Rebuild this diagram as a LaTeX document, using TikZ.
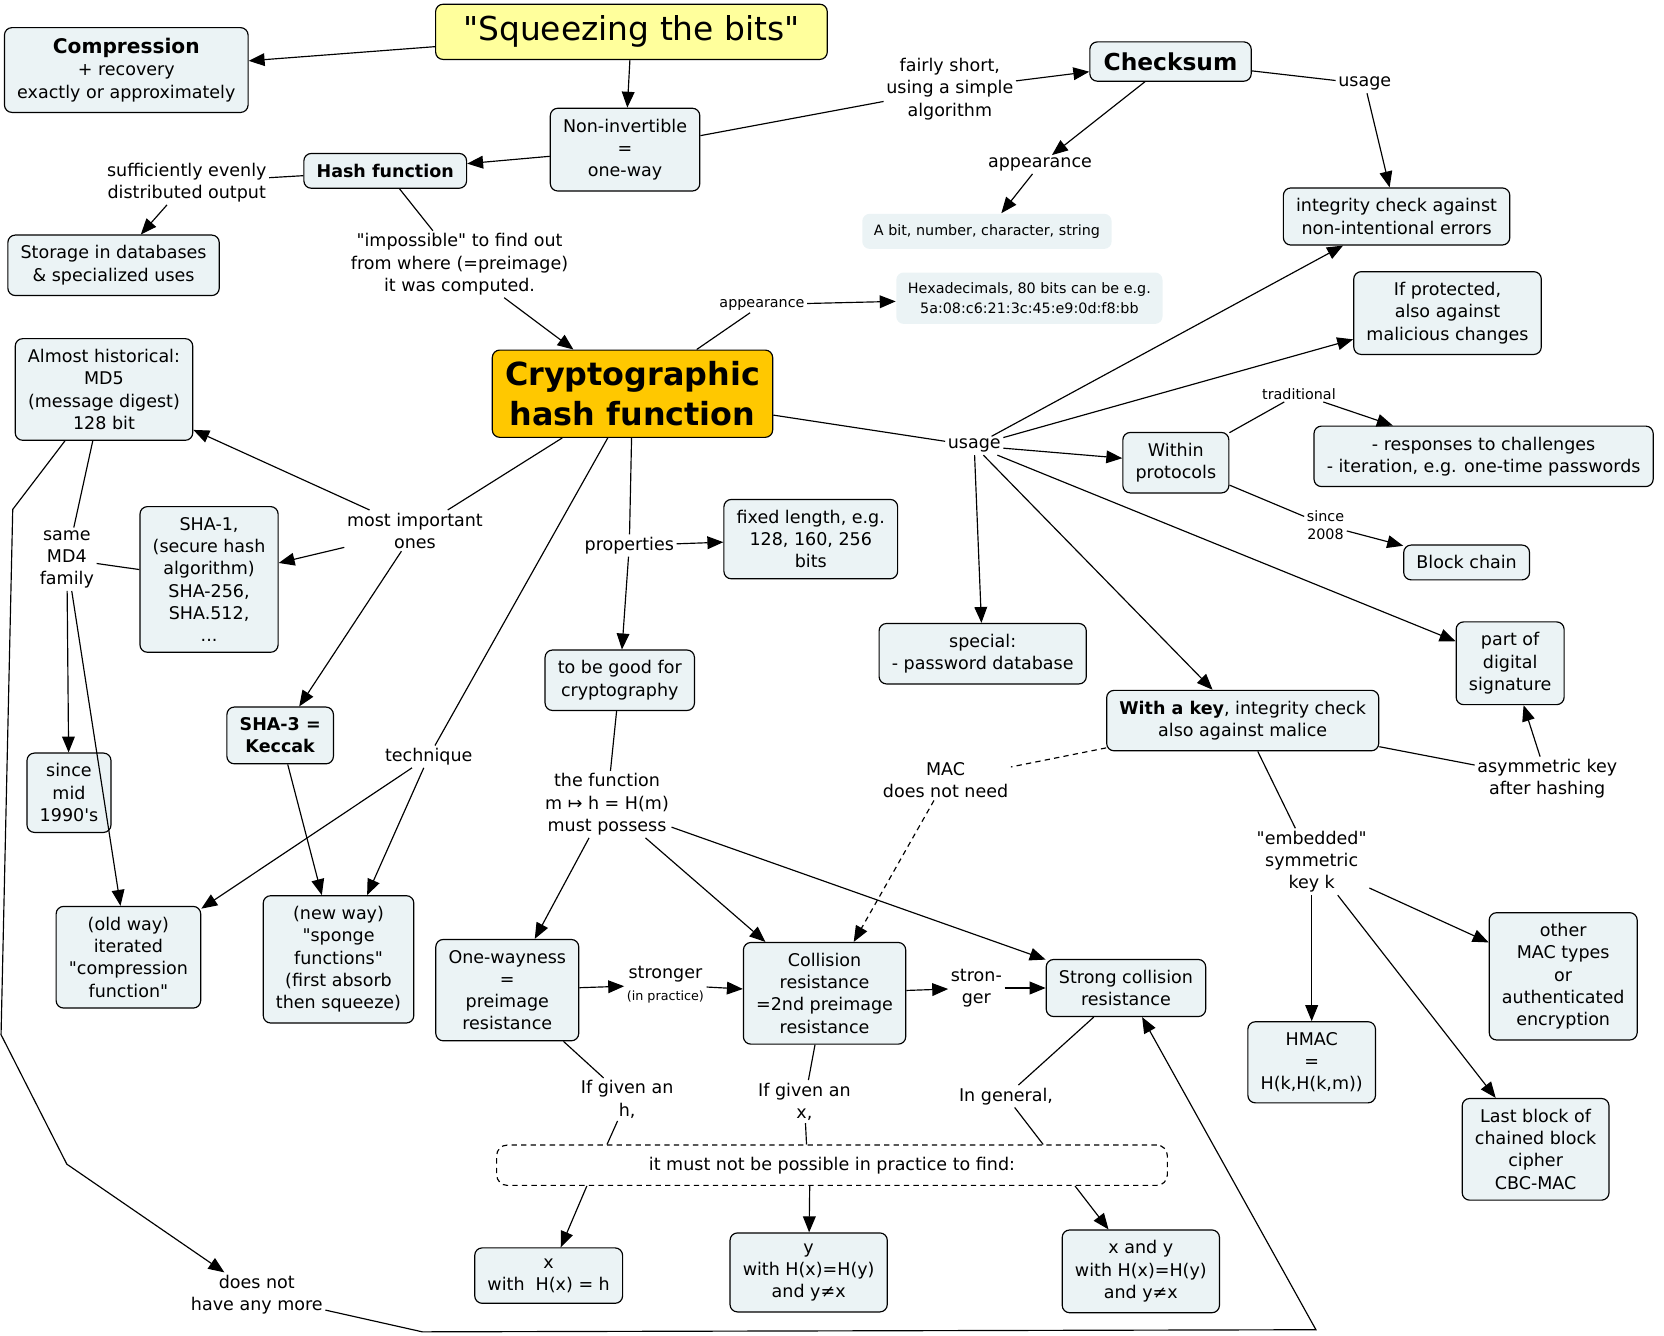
\documentclass[tikz,border=0pt]{standalone}
\usepackage{fontspec}
\setmainfont{DejaVu Sans}[Ligatures=TeXOff]
\usetikzlibrary{arrows.meta}

\definecolor{boxfill}{HTML}{EBF3F5}
\definecolor{titlefill}{HTML}{FFFF9C}
\definecolor{mainfill}{HTML}{FFC800}

\tikzset{
  concept/.style={draw, rounded corners=7pt, fill=boxfill, align=center,
    inner xsep=12pt, inner ysep=10pt, font=\fontsize{16.5}{21}\selectfont},
  ghostbox/.style={fill=boxfill, rounded corners=7pt, align=center,
    inner xsep=11pt, inner ysep=10pt, font=\fontsize{13.5}{18}\selectfont},
  phrase/.style={align=center, inner sep=2pt, font=\fontsize{16.5}{21}\selectfont},
  tiny phrase/.style={phrase, font=\fontsize{13.5}{17}\selectfont},
  maclink/.style={dash pattern=on 5pt off 4pt},
}

\begin{document}
\begin{tikzpicture}[x=1pt, y=-1pt, line width=1.1pt, >={Triangle[length=15pt,width=12pt]}]
 \useasboundingbox (0,0) rectangle (1568,1258);

 % concepts
 \node [concept, fill=titlefill, inner xsep=26pt, inner ysep=11pt, font=\fontsize{31}{36}\selectfont] (title) at (595,30) {"Squeezing the bits"};
 \node [concept] (compr) at (119,66) {{\bfseries\fontsize{19}{22}\selectfont Compression}\\+ recovery\\exactly or approximately};
 \node [concept] (nonin) at (589,141) {Non-invertible\\=\\one-way};
 \node [concept, inner xsep=13pt, font=\bfseries\fontsize{22}{26}\selectfont] (checksum) at (1103,58) {Checksum};
 \node [concept, font=\bfseries\fontsize{16.5}{21}\selectfont] (hashf) at (363,161) {Hash function};
 \node [concept] (storage) at (107,250) {Storage in databases\\\& specialized uses};
 \node [ghostbox] (abit) at (930,218) {A bit, number, character, string};
 \node [concept] (integ) at (1316,204) {integrity check against\\non-intentional errors};
 \node [ghostbox] (hexa) at (970,281) {Hexadecimals, 80 bits can be e.g.\\5a:08:c6:21:3c:45:e9:0d:f8:bb};
 \node [concept] (protect) at (1364,295) {If protected,\\also against\\malicious changes};
 \node [concept] (md5) at (98,367) {Almost historical:\\MD5\\(message digest)\\128 bit};
 \node [concept, fill=mainfill, inner ysep=11pt, font=\bfseries\fontsize{30}{37}\selectfont] (chf) at (596,371) {Cryptographic\\hash function};
 \node [concept] (within) at (1108,436) {Within\\protocols};
 \node [concept] (resp) at (1398,430) {- responses to challenges\\- iteration, e.g. one-time passwords};
 \node [concept] (fixed) at (764,508) {fixed length, e.g.\\128, 160, 256\\bits};
 \node [concept] (sha1) at (197,546) {SHA-1,\\(secure hash\\algorithm)\\SHA-256,\\SHA.512,\\...};
 \node [concept] (block) at (1382,530) {Block chain};
 \node [concept] (special) at (926,616) {special:\\- password database};
 \node [concept] (partof) at (1423,625) {part of\\digital\\signature};
 \node [concept] (good) at (584,641) {to be good for\\cryptography};
 \node [concept] (withkey) at (1171,679) {\textbf{With a key}, integrity check\\also against malice};
 \node [concept, font=\bfseries\fontsize{16.5}{21}\selectfont] (sha3) at (264,693) {SHA-3 =\\Keccak};
 \node [concept] (since) at (65,747) {since\\mid\\1990's};
 \node [concept] (oldway) at (121,902) {(old way)\\iterated\\"compression\\function"};
 \node [concept] (newway) at (319,904) {(new way)\\"sponge\\functions"\\(first absorb\\then squeeze)};
 \node [concept] (onew) at (478,933) {One-wayness\\=\\preimage\\resistance};
 \node [concept] (coll) at (777,936) {Collision\\resistance\\=2nd preimage\\resistance};
 \node [concept] (strong) at (1061,931) {Strong collision\\resistance};
 \node [concept] (other) at (1473,920) {other\\MAC types\\or\\authenticated\\encryption};
 \node [concept] (hmac) at (1236,1001) {HMAC\\=\\H(k,H(k,m))};
 \node [concept] (last) at (1447,1083) {Last block of\\chained block\\cipher\\CBC-MAC};
 \node [draw, rounded corners=10pt, maclink, minimum width=632pt, minimum height=38pt, font=\fontsize{16.5}{21}\selectfont] (mustnot) at (784,1098) {it must not be possible in practice to find:};
 \node [concept] (xwith) at (517,1202) {x\\with~~H(x) = h};
 \node [concept] (ywith) at (762,1199) {y\\with H(x)=H(y)\\and y≠x};
 \node [concept] (xy) at (1075,1198) {x and y\\with H(x)=H(y)\\and y≠x};

 % linking phrases
 \node [phrase] (lshort) at (895,84) {fairly short,\\using a simple\\algorithm};
 \node [phrase] (lusagec) at (1286,79) {usage};
 \node [phrase] (lappc) at (980,155) {appearance};
 \node [phrase] (lsuff) at (176,172) {sufficiently evenly\\distributed output};
 \node [phrase] (limposs) at (433,249) {"impossible" to find out\\from where (=preimage)\\it was computed.};
 \node [tiny phrase] (lappear) at (718,287) {appearance};
 \node [phrase] (lusage) at (918,420) {usage};
 \node [tiny phrase] (ltrad) at (1224,371) {traditional};
 \node [tiny phrase] (lsince) at (1249,495) {since\\2008};
 \node [phrase] (lmost) at (391,500) {most important\\ones};
 \node [phrase] (lsame) at (63,527) {same\\MD4\\family};
 \node [phrase] (lprop) at (593,514) {properties};
 \node [phrase] (ltech) at (404,713) {technique};
 \node [phrase] (lfunc) at (572,758) {the function\\m ↦ h = H(m)\\must possess};
 \node [phrase] (lmac) at (891,735) {MAC\\does not need};
 \node [phrase] (lasym) at (1458,734) {asymmetric key\\after hashing};
 \node [phrase] (lembed) at (1236,812) {"embedded"\\symmetric\\key k};
 \node [phrase] (lstronger) at (627,928) {stronger\\{\fontsize{12}{13}\selectfont(in practice)}};
 \node [phrase] (lstron) at (920,931) {stron-\\ger};
 \node [phrase] (lifh) at (591,1036) {If given an\\h,};
 \node [phrase] (lifx) at (758,1038) {If given an\\x,};
 \node [phrase] (lgeneral) at (948,1033) {In general,};
 \node [phrase] (ldoesnot) at (242,1220) {does not\\have any more};

 % connectors
 \draw [->] (title) -- (compr);
 \draw [->] (title) -- (nonin);
 \draw [->] (nonin) -- (hashf);
 \draw (nonin) -- (lshort);
 \draw [->] (lshort) -- (checksum);
 \draw (checksum) -- (lusagec);
 \draw [->] (lusagec) -- (integ);
 \draw [->] (checksum) -- (lappc);
 \draw [->] (lappc) -- (abit);
 \draw (hashf) -- (lsuff);
 \draw [->] (lsuff) -- (storage);
 \draw (hashf) -- (limposs);
 \draw [->] (limposs) -- (chf);
 \draw (chf) -- (lappear);
 \draw [->] (lappear) -- (hexa);
 \draw (chf) -- (lusage);
 \foreach \t in {integ, protect, within, partof, withkey, special}
   \draw [->] (lusage) -- (\t);
 \draw (within) -- (ltrad);
 \draw [->] (ltrad) -- (resp);
 \draw (within) -- (lsince);
 \draw [->] (lsince) -- (block);
 \draw (chf) -- (lmost);
 \foreach \t in {md5, sha1, sha3}
   \draw [->] (lmost) -- (\t);
 \draw (md5) -- (lsame);
 \draw (sha1) -- (lsame);
 \draw [->] (lsame) -- (since);
 \draw [->] (lsame) -- (oldway);
 \draw [->] (md5) -- (12,480) -- (1,975) -- (63,1097) -- (ldoesnot);
 \draw [->] (ldoesnot) -- (398,1255) -- (1240,1253) -- (strong);
 \draw (chf) -- (ltech);
 \draw [->] (ltech) -- (oldway);
 \draw [->] (ltech) -- (newway);
 \draw [->] (sha3) -- (newway);
 \draw (chf) -- (lprop);
 \draw [->] (lprop) -- (fixed);
 \draw [->] (lprop) -- (good);
 \draw (good) -- (lfunc);
 \foreach \t in {onew, coll, strong}
   \draw [->] (lfunc) -- (\t);
 \draw [maclink] (withkey) -- (lmac);
 \draw [->, maclink] (lmac) -- (coll);
 \draw (withkey) -- (lasym);
 \draw [->] (lasym) -- (partof);
 \draw (withkey) -- (lembed);
 \foreach \t in {hmac, last, other}
   \draw [->] (lembed) -- (\t);
 \draw [->] (onew) -- (lstronger);
 \draw [->] (lstronger) -- (coll);
 \draw [->] (coll) -- (lstron);
 \draw [->] (lstron) -- (strong);
 \draw (onew) -- (lifh);
 \draw (lifh) -- ([xshift=-212pt]mustnot.north);
 \draw (coll) -- (lifx);
 \draw (lifx) -- ([xshift=-24pt]mustnot.north);
 \draw (strong) -- (lgeneral);
 \draw (lgeneral) -- ([xshift=199pt]mustnot.north);
 \draw [->] ([xshift=-231pt]mustnot.south) -- (xwith);
 \draw [->] ([xshift=-21pt]mustnot.south) -- (ywith);
 \draw [->] ([xshift=229pt]mustnot.south) -- (xy);
\end{tikzpicture}
\end{document}
